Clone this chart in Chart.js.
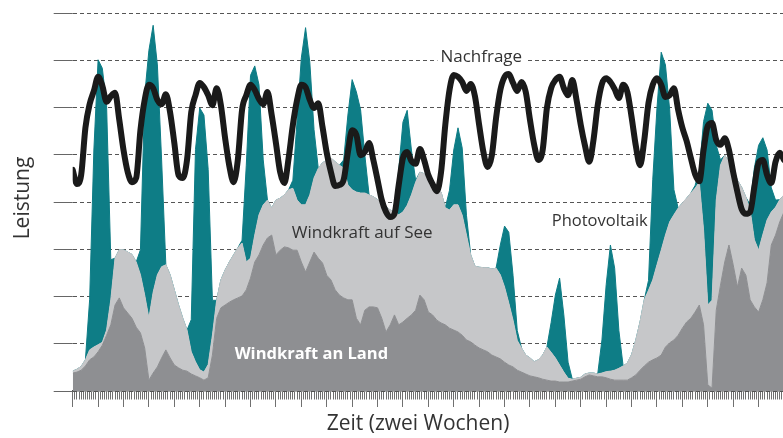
<!DOCTYPE html>
<html lang="de">
<head>
<meta charset="utf-8">
<title>Leistung über zwei Wochen</title>
<script src="https://cdn.jsdelivr.net/npm/chart.js@4.4.1/dist/chart.umd.min.js"></script>
<style>
  html, body { margin: 0; padding: 0; background: #fff; overflow: hidden; }
  #wrap { width: 784px; height: 438px; }
</style>
</head>
<body>
<div id="wrap"><canvas id="chart" width="784" height="438"></canvas></div>
<script>
// ─── Data: GW, one value every 2 hours over two weeks ───
const windLand = [
  3.8, 4.0, 4.4, 5.3, 6.6, 7.2, 8.3, 9.7, 11.8, 14.0,
  18.2, 19.7, 17.6, 16.5, 15.4, 13.5, 12.3, 9.1, 2.3, 3.8,
  5.1, 7.0, 8.7, 7.0, 5.5, 4.9, 4.4, 4.2, 3.6, 3.2,
  2.8, 2.3, 2.8, 7.6, 15.4, 17.6, 18.2, 18.8, 19.3, 19.7,
  20.1, 21.4, 23.9, 27.3, 28.8, 30.9, 32.4, 33.0, 28.8, 29.8,
  30.5, 30.3, 29.8, 29.8, 27.3, 25.2, 27.3, 29.4, 28.1, 27.1,
  24.5, 23.5, 21.4, 20.3, 19.7, 19.3, 19.3, 15.4, 14.0, 17.1,
  17.8, 17.8, 17.6, 15.4, 12.5, 14.0, 16.1, 14.0, 14.6, 15.4,
  16.1, 17.1, 20.3, 19.3, 16.7, 16.1, 15.0, 14.4, 14.0, 13.3,
  12.9, 12.5, 11.8, 10.8, 10.4, 9.7, 9.1, 8.7, 8.3, 7.6,
  7.2, 6.8, 6.1, 5.5, 5.1, 4.4, 4.0, 3.6, 3.2, 3.0,
  2.8, 2.5, 2.3, 2.1, 2.1, 1.9, 1.9, 1.9, 2.1, 2.3,
  2.5, 3.0, 3.4, 3.2, 3.0, 3.0, 2.8, 2.5, 2.3, 2.3,
  2.3, 2.3, 2.8, 3.4, 4.4, 5.3, 6.1, 6.6, 7.0, 7.6,
  9.3, 10.2, 10.8, 11.8, 13.3, 14.6, 15.4, 16.7, 18.2, 14.0,
  1.3, 0.6, 17.1, 22.4, 27.3, 30.9, 26.7, 22.0, 26.0, 24.5,
  19.3, 17.8, 16.7, 19.3, 22.9, 30.9, 33.0, 35.8, 37.9,
];

const windSea = [
  0.4, 0.6, 0.8, 1.3, 2.1, 2.1, 1.5, 0.6, 1.1, 5.3,
  9.9, 10.2, 12.3, 12.9, 13.5, 13.8, 12.3, 11.2, 13.1, 17.1,
  19.5, 19.3, 18.0, 17.6, 15.9, 13.3, 11.0, 8.7, 4.7, 3.0,
  1.7, 1.7, 2.8, 4.2, 3.8, 5.9, 7.4, 8.5, 9.5, 10.6,
  11.2, 5.9, 4.2, 5.7, 8.5, 8.5, 8.0, 5.7, 11.6, 11.0,
  11.0, 12.3, 13.1, 10.6, 12.1, 14.2, 14.2, 15.7, 19.0, 21.2,
  24.3, 25.8, 27.1, 27.5, 27.5, 24.3, 23.3, 26.7, 27.9, 24.8,
  23.7, 23.3, 22.9, 24.3, 26.5, 24.3, 21.8, 23.3, 23.3, 23.9,
  25.4, 27.1, 26.0, 26.7, 27.9, 28.1, 28.1, 27.7, 24.8, 25.0,
  26.5, 26.9, 25.4, 22.2, 18.4, 16.7, 17.1, 17.4, 17.8, 18.2,
  18.8, 17.8, 15.9, 13.1, 9.9, 6.3, 5.1, 4.0, 3.8, 3.2,
  3.8, 5.1, 7.0, 6.1, 4.9, 3.6, 2.1, 0.8, 0.4, 0.4,
  0.4, 0.6, 0.4, 0.6, 0.6, 0.8, 1.3, 1.7, 2.1, 2.5,
  3.0, 3.6, 4.9, 7.4, 10.2, 14.0, 15.2, 16.9, 19.7, 22.2,
  23.7, 25.6, 26.5, 26.9, 26.5, 26.2, 26.5, 26.2, 26.0, 20.1,
  16.9, 18.6, 23.3, 25.4, 22.6, 17.6, 20.1, 22.6, 17.1, 16.5,
  19.0, 14.2, 13.1, 13.8, 13.3, 7.0, 5.9, 4.7, 3.6,
];

const solar = [
  0, 0, 0, 0, 10.6, 41.7, 60.3, 58.0, 47.6, 8.5,
  0, 0, 0, 0, 0, 0, 5.3, 42.3, 56.7, 56.5,
  44.4, 22.6, 0, 0, 0, 0, 0, 0, 6.8, 44.9,
  55.4, 54.4, 41.3, 7.4, 0, 0, 0, 0, 0, 0,
  0.6, 20.5, 38.7, 35.8, 27.5, 9.5, 0, 0, 0, 0,
  0, 0, 1.7, 16.9, 31.1, 37.5, 28.1, 10.2, 0, 0,
  0, 0, 0, 0, 1.7, 14.8, 23.3, 21.2, 17.6, 8.0,
  0, 0, 0, 0, 0, 0, 0, 9.5, 19.0, 20.1,
  9.5, 0.4, 0, 0, 0, 0, 0, 0, 0, 4.2,
  11.6, 16.3, 14.2, 4.2, 0, 0, 0, 0, 0, 0,
  0, 6.3, 12.9, 15.0, 9.5, 2.1, 0, 0, 0, 0,
  0, 0, 0, 6.3, 13.3, 18.4, 12.1, 3.4, 0, 0,
  0, 0, 0, 0, 0, 7.0, 18.4, 26.7, 21.6, 8.0,
  0, 0, 0, 0, 0, 0, 2.1, 21.2, 33.2, 41.9,
  36.0, 23.7, 5.3, 0, 0, 0, 0, 0.6, 2.5, 22.9,
  42.7, 40.2, 11.6, 1.1, 0, 0, 0, 0, 0, 0,
  1.1, 15.2, 22.2, 20.5, 14.8, 5.1, 1.5, 0, 0,
];

const demand = [
  46.8, 43.8, 45.7, 55.7, 60.7, 63.5, 66.5, 64.6, 61.2, 62.4,
  63.1, 57.4, 51.0, 46.3, 44.2, 45.1, 55.2, 61.6, 64.8, 64.1,
  61.6, 60.7, 62.8, 59.0, 52.5, 45.7, 45.1, 48.9, 59.0, 62.6,
  65.2, 64.3, 62.6, 60.5, 64.1, 60.5, 53.5, 47.6, 44.2, 48.9,
  59.5, 62.6, 64.8, 63.7, 61.8, 60.7, 63.3, 58.4, 52.5, 46.3,
  44.0, 49.3, 56.3, 61.6, 64.8, 64.3, 61.6, 59.9, 60.9, 55.9,
  50.4, 46.3, 43.4, 43.6, 44.7, 50.6, 55.2, 54.2, 49.9, 50.6,
  52.5, 48.9, 44.7, 40.4, 37.9, 36.8, 37.5, 43.6, 49.3, 50.6,
  48.7, 48.1, 51.2, 48.9, 45.7, 43.8, 42.3, 46.3, 56.3, 63.7,
  66.9, 66.5, 65.4, 63.5, 65.0, 62.4, 56.3, 50.6, 47.4, 49.9,
  57.8, 63.7, 66.5, 67.1, 65.2, 63.5, 65.4, 63.3, 57.4, 52.1,
  48.9, 51.0, 59.9, 64.1, 65.8, 66.5, 64.1, 62.6, 65.8, 61.6,
  56.3, 51.9, 48.5, 53.1, 60.5, 65.0, 66.2, 65.4, 63.9, 62.0,
  64.8, 63.3, 58.0, 51.9, 47.8, 53.1, 61.0, 64.8, 66.2, 64.8,
  62.2, 62.6, 64.1, 59.5, 55.7, 52.9, 49.3, 45.9, 44.4, 51.0,
  56.1, 56.7, 53.1, 52.1, 53.5, 51.0, 46.3, 42.1, 38.5, 37.5,
  37.9, 43.2, 48.3, 48.9, 45.7, 44.0, 48.5, 50.4, 48.9,
];

// hour of each sample (every 2 h)
const hours = demand.map((_, i) => i * 2);

// ─── Text placed inside the plot (data coordinates) ───
const annotations = [
  { text: 'Nachfrage', hour: 193, gw: 70.6, align: 'center', color: '#333', font: "400 17px 'Open Sans', sans-serif", box: true },
  { text: 'Windkraft auf See', hour: 103.5, gw: 33.4, align: 'left', color: '#333', font: "400 17px 'Open Sans', sans-serif" },
  { text: 'Photovoltaik', hour: 226.3, gw: 36.0, align: 'left', color: '#333', font: "400 16.5px 'Open Sans', sans-serif" },
  { text: 'Windkraft an Land', hour: 76.5, gw: 7.8, align: 'left', color: '#fff', font: "700 16.5px 'Open Sans', sans-serif" },
];

const COLORS = {
  land: '#8e8f92',
  sea: '#c6c7c9',
  solar: '#0e7d86',
  demand: '#1a1a1a',
};

const textPlugin = {
  id: 'texts',
  afterDatasetsDraw(chart) {
    const { ctx, scales } = chart;
    ctx.save();
    ctx.textBaseline = 'middle';
    annotations.forEach(a => {
      const x = scales.x.getPixelForValue(a.hour);
      const y = scales.y.getPixelForValue(a.gw);
      ctx.font = a.font;
      ctx.textAlign = a.align;
      if (a.box) {
        const w = ctx.measureText(a.text).width;
        ctx.fillStyle = '#fff';
        ctx.fillRect(x - w / 2 - 3, y - 10, w + 6, 20);
      }
      ctx.fillStyle = a.color;
      ctx.fillText(a.text, x, y);
    });
    ctx.restore();
  },
  afterDraw(chart) {
    const { ctx } = chart;
    ctx.save();
    ctx.fillStyle = '#333';
    ctx.font = "400 21px 'Open Sans', sans-serif";
    ctx.textAlign = 'center';
    ctx.textBaseline = 'middle';
    ctx.fillText('Zeit (zwei Wochen)', 418, 424);
    ctx.translate(23, 198);
    ctx.rotate(-Math.PI / 2);
    ctx.fillText('Leistung', 0, 0);
    ctx.restore();
  },
};

// supply areas stack in dataset order (land at the bottom);
// the demand line sits in its own stack and is drawn on top (order -1)
new Chart(document.getElementById('chart'), {
  type: 'line',
  data: {
    labels: hours,
    datasets: [
      {
        label: 'Windkraft an Land',
        data: windLand,
        backgroundColor: COLORS.land,
        borderColor: COLORS.land,
        borderWidth: 1,
        fill: 'origin',
        stack: 'supply',
      },
      {
        label: 'Windkraft auf See',
        data: windSea,
        backgroundColor: COLORS.sea,
        borderColor: COLORS.sea,
        borderWidth: 1,
        fill: '-1',
        stack: 'supply',
      },
      {
        label: 'Photovoltaik',
        data: solar,
        backgroundColor: COLORS.solar,
        borderColor: COLORS.solar,
        borderWidth: 1,
        fill: '-1',
        stack: 'supply',
      },
      {
        label: 'Nachfrage',
        data: demand,
        borderColor: COLORS.demand,
        borderWidth: 6,
        fill: false,
        stack: 'demand',
        order: -1,
        cubicInterpolationMode: 'monotone',
        borderJoinStyle: 'round',
        borderCapStyle: 'round',
      },
    ],
  },
  options: {
    responsive: false,
    animation: false,
    layout: { padding: { left: 53.7, top: 13, right: 0, bottom: 31 } },
    elements: { point: { radius: 0 }, line: { tension: 0 } },
    plugins: { legend: { display: false }, tooltip: { enabled: false } },
    scales: {
      x: {
        type: 'linear',
        min: 0,
        max: 336,
        ticks: { display: false, stepSize: 1, autoSkip: false },
        grid: {
          drawOnChartArea: false,
          tickLength: 16,
          tickColor: '#707070',
          tickWidth: 1,
          tickBorderDash: ctx => (ctx.tick && ctx.tick.value % 12 === 0 ? [16, 0] : [8, 30]),
        },
        border: { color: '#555', width: 1.5 },
      },
      y: {
        stacked: true,
        min: 0,
        max: 80,
        ticks: { display: false, stepSize: 10 },
        grid: {
          color: '#555',
          lineWidth: 1,
          tickLength: 19,
          tickColor: '#666',
          tickBorderDash: [19, 0],
        },
        border: { display: false, dash: [4, 3] },
      },
    },
  },
  plugins: [textPlugin],
});
</script>
</body>
</html>
